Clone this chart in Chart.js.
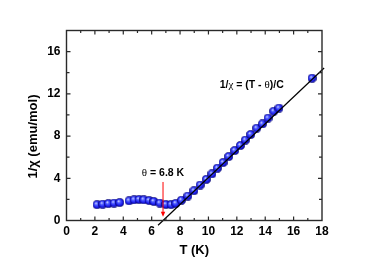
<!DOCTYPE html>
<html><head><meta charset="utf-8">
<script src="https://cdn.jsdelivr.net/npm/chart.js@4/dist/chart.umd.min.js"></script>
<style>html,body{margin:0;padding:0;background:#fff}</style>
</head><body>
<canvas id="c" width="374" height="265" style="width:374px;height:265px;display:block"></canvas>
<script>
// measured data: T (K) and 1/chi (emu/mol)
const temperatureK = [2.15,2.55,2.95,3.35,3.75, 4.41,4.76,5.11,5.44,5.82,6.15,6.57,7.0,7.37,7.70,8.10,8.55,8.98,9.42,9.85,10.25,10.63,11.03,11.43,11.85,12.25,12.6,12.98,13.4,13.8,14.2,14.6,14.97,17.3];
const inverseChi   = [1.50,1.55,1.60,1.65,1.70, 1.87,1.96,1.99,1.96,1.89,1.80,1.65,1.52,1.50,1.62,1.92,2.32,2.82,3.36,3.90,4.42,4.96,5.49,6.06,6.63,7.10,7.62,8.15,8.75,9.15,9.70,10.35,10.65,13.48];
// Curie-Weiss fit line end points
const fitT = [6.45, 18.15];
const fitInvChi = [-0.45, 14.45];
// annotation
const thetaK = 6.8;
const arrowFromY = 3.65;
const arrowToY = 0.35;
const thetaLabelY = 4.5;
const fitLabelT = 13.05;
const fitLabelY = 12.78;
// axes
const xMin = 0, xMax = 18, xStep = 2, xMinor = 1;
const yMin = 0, yMax = 18, yStep = 4, yMinor = 2, yLabelMax = 16;
const xTitle = 'T (K)';
const yTitle = '1/\u03C7 (emu/mol)';
const yTitleCenter = 8; // y value where the vertical title is centred

const SANS = '"Liberation Sans", Arial, sans-serif';
const SERIF = '"Liberation Serif", "Times New Roman", serif';

// sphere marker
function makeSphere() {
  const s = 9, c = document.createElement('canvas');
  c.width = s; c.height = s;
  const g = c.getContext('2d');
  const grd = g.createRadialGradient(3.2, 3.0, 0.2, 4.5, 4.5, 4.4);
  grd.addColorStop(0, '#dfe3ff');
  grd.addColorStop(0.3, '#5060ff');
  grd.addColorStop(0.7, '#1c1cf0');
  grd.addColorStop(1, '#05058a');
  g.fillStyle = grd;
  g.beginPath(); g.arc(4.5, 4.5, 4.1, 0, Math.PI * 2); g.fill();
  g.strokeStyle = 'rgba(10,10,120,0.9)'; g.lineWidth = 0.7; g.stroke();
  return c;
}
const sphere = makeSphere();

function drawPieces(ctx, pieces, cx, cy) {
  let total = 0;
  pieces.forEach(p => { ctx.font = p.font; p.w = ctx.measureText(p.t).width; total += p.w; });
  let x = cx - total / 2;
  ctx.textBaseline = 'middle'; ctx.textAlign = 'left'; ctx.fillStyle = '#000';
  pieces.forEach(p => { ctx.font = p.font; ctx.fillText(p.t, x, cy); x += p.w; });
}

const framePlugin = {
  id: 'frame',
  afterDatasetsDraw(chart) {
    const {ctx, chartArea: a, scales: {x, y}} = chart;
    ctx.save();
    // y axis title
    ctx.save();
    ctx.translate(33, y.getPixelForValue(yTitleCenter) + 0.5);
    ctx.rotate(-Math.PI / 2);
    ctx.font = 'bold 13px ' + SANS; ctx.fillStyle = '#000';
    ctx.textAlign = 'center'; ctx.textBaseline = 'middle';
    ctx.fillText(yTitle, 0, 0);
    ctx.restore();
    // arrow
    const ax = x.getPixelForValue(thetaK);
    const y0 = y.getPixelForValue(arrowFromY), y1 = y.getPixelForValue(arrowToY);
    ctx.strokeStyle = '#ff0000'; ctx.fillStyle = '#ff0000'; ctx.lineWidth = 1;
    ctx.beginPath(); ctx.moveTo(ax, y0); ctx.lineTo(ax, y1 - 4); ctx.stroke();
    ctx.beginPath(); ctx.moveTo(ax, y1); ctx.lineTo(ax - 2.2, y1 - 5); ctx.lineTo(ax + 2.2, y1 - 5); ctx.closePath(); ctx.fill();
    // labels
    drawPieces(ctx, [
      {t: '\u03B8', font: '11px ' + SERIF},
      {t: ' = 6.8 K', font: 'bold 10.5px ' + SANS}
    ], x.getPixelForValue(thetaK), y.getPixelForValue(thetaLabelY));
    drawPieces(ctx, [
      {t: '1/', font: 'bold 10.5px ' + SANS},
      {t: '\u03C7', font: '11px ' + SERIF},
      {t: ' = (T - ', font: 'bold 10.5px ' + SANS},
      {t: '\u03B8', font: '11px ' + SERIF},
      {t: ')/C', font: 'bold 10.5px ' + SANS}
    ], x.getPixelForValue(fitLabelT), y.getPixelForValue(fitLabelY));
    // frame
    ctx.strokeStyle = '#2a2a2a'; ctx.lineWidth = 1.4;
    ctx.strokeRect(a.left, a.top, a.right - a.left, a.bottom - a.top);
    ctx.lineWidth = 1.2;
    ctx.beginPath();
    for (let v = xMin + xMinor; v < xMax; v += xMinor) {
      const px = x.getPixelForValue(v);
      const len = (Math.round(v) % xStep === 0) ? 4 : 2.5;
      ctx.moveTo(px, a.bottom); ctx.lineTo(px, a.bottom - len);
      ctx.moveTo(px, a.top); ctx.lineTo(px, a.top + len);
    }
    for (let v = yMin + yMinor; v < yMax; v += yMinor) {
      const py = y.getPixelForValue(v);
      const len = (Math.round(v) % yStep === 0) ? 4 : 3;
      ctx.moveTo(a.left, py); ctx.lineTo(a.left + len, py);
      ctx.moveTo(a.right, py); ctx.lineTo(a.right - len, py);
    }
    ctx.stroke();
    ctx.restore();
  }
};

new Chart(document.getElementById('c'), {
  type: 'scatter',
  data: {
    datasets: [
      {
        label: 'fit',
        data: fitT.map((t, i) => ({x: t, y: fitInvChi[i]})),
        showLine: true, borderColor: '#000', borderWidth: 1.2,
        pointRadius: 0, clip: false, order: 0
      },
      {
        label: '1/chi',
        data: temperatureK.map((t, i) => ({x: t, y: inverseChi[i]})),
        pointStyle: sphere, pointRadius: 4.5, showLine: false, order: 1
      }
    ]
  },
  options: {
    responsive: false, animation: false, devicePixelRatio: 1,
    layout: {padding: {top: 30.5, right: 52, left: 0, bottom: 0}},
    plugins: {legend: {display: false}, tooltip: {enabled: false}},
    scales: {
      x: {
        type: 'linear', min: xMin, max: xMax,
        afterFit: s => { s.height = 44.5; },
        grid: {display: false, drawTicks: false}, border: {display: false},
        ticks: {stepSize: xStep, color: '#000', padding: 4, maxRotation: 0,
                font: {family: SANS, size: 12, weight: 'bold'}},
        title: {display: true, text: xTitle, color: '#000', padding: {top: 0, bottom: 7},
                font: {family: SANS, size: 13, weight: 'bold'}}
      },
      y: {
        type: 'linear', min: yMin, max: yMax,
        afterFit: s => { s.width = 66.5; },
        afterBuildTicks: s => { s.ticks = s.ticks.filter(t => t.value <= yLabelMax); },
        grid: {display: false, drawTicks: false}, border: {display: false},
        ticks: {stepSize: yStep, color: '#000', padding: 6,
                font: {family: SANS, size: 12, weight: 'bold'}},
        title: {display: false}
      }
    }
  },
  plugins: [framePlugin]
});
</script>
</body></html>
